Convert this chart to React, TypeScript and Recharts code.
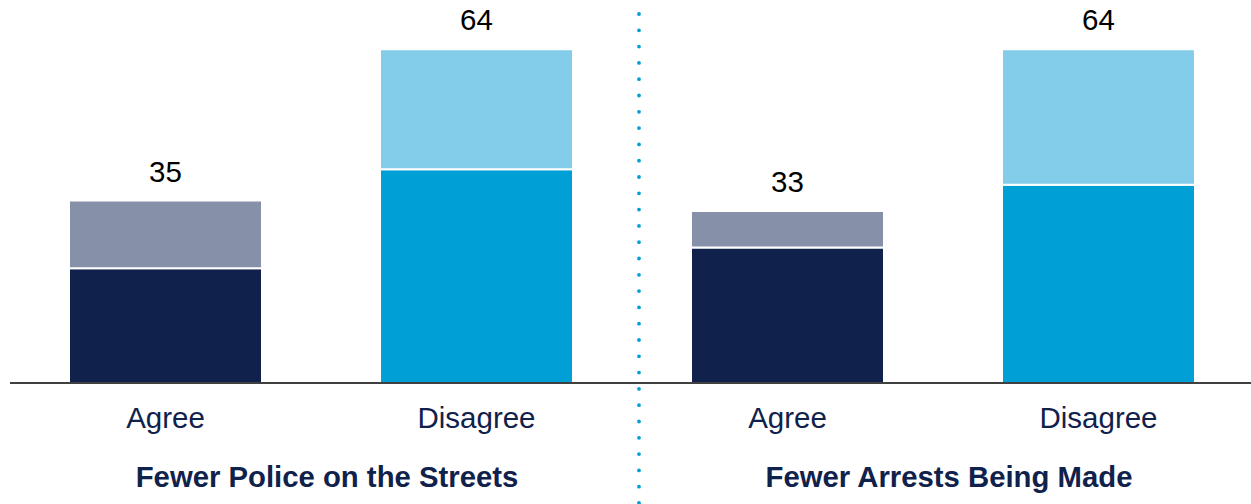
import React from 'react'
import { Bar, BarChart, XAxis, YAxis, Cell, LabelList } from 'recharts'

const categories = ['Agree', 'Disagree', 'Agree', 'Disagree']
const groupTitles = ['Fewer Police on the Streets', 'Fewer Arrests Being Made']
const strongValues = [22, 41, 26, 38]
const somewhatValues = [13, 23, 7, 26]
const totals = [35, 64, 33, 64]

const strongColors = ['#10224B', '#009FD6', '#10224B', '#009FD6']
const somewhatColors = ['#8690A8', '#83CDEA', '#8690A8', '#83CDEA']

const data = categories.map((name, i) => ({
   id: i,
   name,
   strong: strongValues[i],
   somewhat: somewhatValues[i],
   total: totals[i],
}))

const FONT = '"Liberation Sans", Arial, sans-serif'
const NAVY = '#10224B'

const CategoryTick = (props: any) => {
   const { x, y, payload, index } = props
   const half = 311 / 2
   return (
      <g>
         <text x={x} y={y + 45} textAnchor="middle" fontSize={29.5} fill={NAVY} fontFamily={FONT}>
            {categories[payload.value]}
         </text>
         {index % 2 === 0 && (
            <text x={x + half + 6} y={y + 104} textAnchor="middle" fontSize={29.3} fontWeight="bold" fill={NAVY} fontFamily={FONT}>
               {groupTitles[index / 2]}
            </text>
         )}
         {index === 1 && (
            <line
               x1={x + half + 7}
               x2={x + half + 7}
               y1={y - 369}
               y2={y + 121}
               stroke="#009FD6"
               strokeWidth={3.8}
               strokeLinecap="round"
               strokeDasharray="0 16.3"
            />
         )}
      </g>
   )
}

const TotalLabel = (props: any) => {
   const { x, y, width, index } = props
   return (
      <text x={x + width / 2} y={y - 19} textAnchor="middle" fontSize={29.5} fill="#000" fontFamily={FONT}>
         {totals[index]}
      </text>
   )
}

const App: React.FC = () => {
   return (
      <div style={{ position: 'absolute', left: 0, top: 0, background: '#fff' }}>
         <BarChart width={1251} height={504} data={data} margin={{ top: 18, right: -3, left: 10, bottom: 0 }} barSize={193}>
            <XAxis
               dataKey="id"
               height={121}
               tickLine={false}
               tickSize={0}
               tickMargin={0}
               axisLine={{ stroke: '#000', strokeWidth: 1.5 }}
               tick={<CategoryTick />}
               interval={0}
            />
            <YAxis hide domain={[0, 70]} />
            <Bar dataKey="strong" stackId="a" stroke="#fff" strokeWidth={2} isAnimationActive={false}>
               {data.map((d, i) => (
                  <Cell key={d.id} fill={strongColors[i]} />
               ))}
            </Bar>
            <Bar dataKey="somewhat" stackId="a" stroke="#fff" strokeWidth={2} isAnimationActive={false}>
               {data.map((d, i) => (
                  <Cell key={d.id} fill={somewhatColors[i]} />
               ))}
               <LabelList dataKey="total" content={<TotalLabel />} />
            </Bar>
         </BarChart>
      </div>
   )
}

export default App
